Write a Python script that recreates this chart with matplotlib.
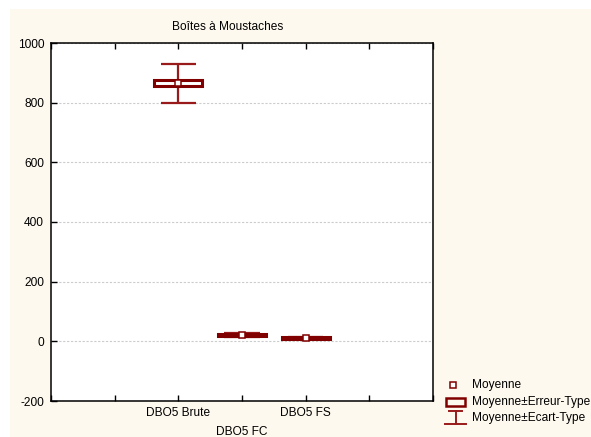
import matplotlib
matplotlib.use('Agg')
import matplotlib.pyplot as plt
from matplotlib.patches import Rectangle
from matplotlib.lines import Line2D

plt.rcParams['font.family'] = ['Liberation Sans', 'DejaVu Sans']

categories = ['DBO5 Brute', 'DBO5 FC', 'DBO5 FS']
means = [865, 21, 11]
std_err = [10, 2.5, 2]
std_dev = [65, 6, 4]
y_ticks = [-200, 0, 200, 400, 600, 800, 1000]
legend_labels = ['Moyenne', 'Moyenne±Erreur-Type', 'Moyenne±Ecart-Type']
title = 'Boîtes à Moustaches'

BOX = '#800000'
WHISK = '#991a1a'
W, H = 591, 437
FS = 8.6

def fx(px):
    return px / W

def fy(py):
    return 1 - py / H

fig = plt.figure(figsize=(W / 100, H / 100), dpi=100)
fig.patch.set_facecolor('white')
fig.add_artist(Rectangle((fx(10), 0), 1 - fx(10), fy(9), transform=fig.transFigure,
                         facecolor='#FDF9EE', edgecolor='none', zorder=-10))

ax = fig.add_axes([fx(51), fy(401), fx(433) - fx(51), fy(43) - fy(401)])
ax.set_facecolor('white')

positions = [2, 3, 4]
for x, m, se, sd in zip(positions, means, std_err, std_dev):
    ax.plot([x, x], [m - sd, m + sd], color=WHISK, lw=1.6, zorder=2, solid_capstyle='butt')
    ax.plot([x - 0.275, x + 0.275], [m + sd, m + sd], color=WHISK, lw=1.6, zorder=2, solid_capstyle='butt')
    ax.plot([x - 0.275, x + 0.275], [m - sd, m - sd], color=WHISK, lw=1.6, zorder=2, solid_capstyle='butt')
    ax.add_patch(Rectangle((x - 0.375, m - se), 0.75, 2 * se, facecolor='white',
                           edgecolor=BOX, lw=2.2, zorder=3))
    ax.plot(x, m, marker='s', ms=4.5, mfc='white', mec=BOX, mew=1.1, zorder=4, ls='none')

ax.set_xlim(0, 6)
ax.set_ylim(-200, 1000)
ax.set_yticks(y_ticks)
ax.set_yticklabels([str(v) for v in y_ticks])
xt_labels = ['', '', categories[0], '\n' + categories[1], categories[2], '', '']
ax.set_xticks(range(7))
ax.set_xticklabels(xt_labels)
for lbl in ax.get_xticklabels():
    lbl.set_linespacing(1.8)
ax.tick_params(axis='x', top=True, bottom=True, direction='in', length=4, width=1,
               labelsize=FS, pad=4)
ax.tick_params(axis='y', left=True, right=False, direction='in', length=4, width=1,
               labelsize=FS, pad=5)
ax.yaxis.grid(True, linestyle=(0, (2, 1.5)), color='#cccccc', lw=0.8)
ax.set_axisbelow(True)
for s in ax.spines.values():
    s.set_linewidth(1.1)
    s.set_color('black')

fig.text(fx(228), fy(27), title, ha='center', va='center', fontsize=FS)

# legend
fig.add_artist(Line2D([fx(453)], [fy(385)], marker='s', ms=4.5, mfc='white', mec=BOX,
                      mew=1.1, ls='none', transform=fig.transFigure))
fig.add_artist(Rectangle((fx(446), fy(406)), fx(465) - fx(446), fy(398) - fy(406),
                         transform=fig.transFigure, facecolor='none', edgecolor=BOX, lw=1.8))
fig.add_artist(Line2D([fx(449), fx(462)], [fy(411), fy(411)], color=WHISK, lw=1.4,
                      transform=fig.transFigure))
fig.add_artist(Line2D([fx(455.5), fx(455.5)], [fy(411), fy(424)], color=WHISK, lw=1.4,
                      transform=fig.transFigure))
fig.add_artist(Line2D([fx(445), fx(466)], [fy(424), fy(424)], color=WHISK, lw=1.4,
                      transform=fig.transFigure))
for lab, yy in zip(legend_labels, [385, 402, 418]):
    fig.text(fx(472), fy(yy), lab, ha='left', va='center', fontsize=FS)

fig.savefig('out.png', dpi=100)
